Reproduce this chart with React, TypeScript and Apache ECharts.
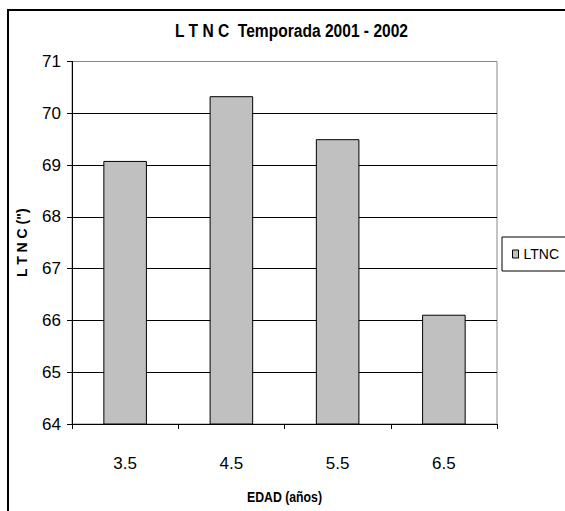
import React, { useEffect, useRef } from "react";
import * as echarts from "echarts";

const categories = ["3.5", "4.5", "5.5", "6.5"];
const ltncValues = [69.08, 70.33, 69.5, 66.11];
const yTicks = { min: 64, max: 71, interval: 1 };
const titleText = "L T N C  Temporada 2001 - 2002";
const seriesName = "LTNC";
const xTitle = "EDAD (años)";
const yTitle = 'L T N C (")';

const SANS = '"Liberation Sans", Arial, sans-serif';

export default function App() {
  const ref = useRef<HTMLDivElement>(null);
  useEffect(() => {
    if (!ref.current) return;
    const chart = echarts.init(ref.current, undefined, { renderer: "svg" });
    const gridColors = [];
    for (let v = yTicks.min; v <= yTicks.max; v += yTicks.interval) {
      gridColors.push(v === yTicks.max ? "#888888" : "#000000");
    }
    chart.setOption({
      animation: false,
      backgroundColor: "#ffffff",
      legend: {
        left: 502,
        top: 237,
        orient: "vertical",
        borderColor: "#000",
        borderWidth: 1,
        padding: [10, 10, 10, 10],
        itemWidth: 6,
        itemHeight: 8,
        itemGap: 0,
        icon: "rect",
        textStyle: { fontFamily: SANS, fontSize: 14, color: "#000" },
        data: [{ name: seriesName, itemStyle: { color: "#C0C0C0", borderColor: "#000", borderWidth: 1 } }],
      },
      grid: {
        left: 72,
        right: 68,
        top: 61.5,
        bottom: 87,
        show: true,
        borderColor: "#888888",
        borderWidth: 1,
        backgroundColor: "transparent",
      },
      xAxis: {
        type: "category",
        data: categories,
        boundaryGap: true,
        axisLine: { lineStyle: { color: "#000", width: 1 } },
        axisTick: { show: true, length: 5, inside: false, lineStyle: { color: "#000" } },
        axisLabel: { fontFamily: SANS, fontSize: 17, color: "#000", margin: 31 },
      },
      yAxis: {
        type: "value",
        min: yTicks.min,
        max: yTicks.max,
        interval: yTicks.interval,
        axisLine: { show: true, lineStyle: { color: "#000", width: 1 } },
        axisTick: { show: true, length: 5, inside: false, lineStyle: { color: "#000" } },
        axisLabel: { fontFamily: SANS, fontSize: 17, color: "#000", margin: 11 },
        splitLine: { show: true, lineStyle: { color: gridColors, width: 1 } },
        name: yTitle,
        nameLocation: "middle",
        nameGap: 43,
        nameRotate: 90,
        nameTextStyle: { fontFamily: SANS, fontSize: 14, fontWeight: "bold", color: "#000" },
      },
      series: [
        {
          name: seriesName,
          type: "bar",
          data: ltncValues,
          barWidth: "41%",
          itemStyle: { color: "#C0C0C0", borderColor: "#000", borderWidth: 1 },
        },
      ],
      graphic: [
        {
          type: "rect",
          shape: { x: 8, y: 10, width: 700, height: 700 },
          style: { fill: "none", stroke: "#000", lineWidth: 2 },
          silent: true,
        },
        {
          type: "text",
          x: 291.5,
          y: 30,
          scaleX: 0.82,
          silent: true,
          style: {
            text: titleText,
            font: 'bold 19px "Liberation Sans", Arial, sans-serif',
            fill: "#000",
            textAlign: "center",
            textVerticalAlign: "middle",
          },
        },
        {
          type: "text",
          x: 284.5,
          y: 497,
          scaleX: 0.82,
          silent: true,
          style: {
            text: xTitle,
            font: 'bold 15px "Liberation Sans", Arial, sans-serif',
            fill: "#000",
            textAlign: "center",
            textVerticalAlign: "middle",
          },
        },
      ],
    });
    return () => chart.dispose();
  }, []);
  return (
    <div
      ref={ref}
      style={{ position: "fixed", left: 0, top: 0, width: 565, height: 511 }}
    />
  );
}
